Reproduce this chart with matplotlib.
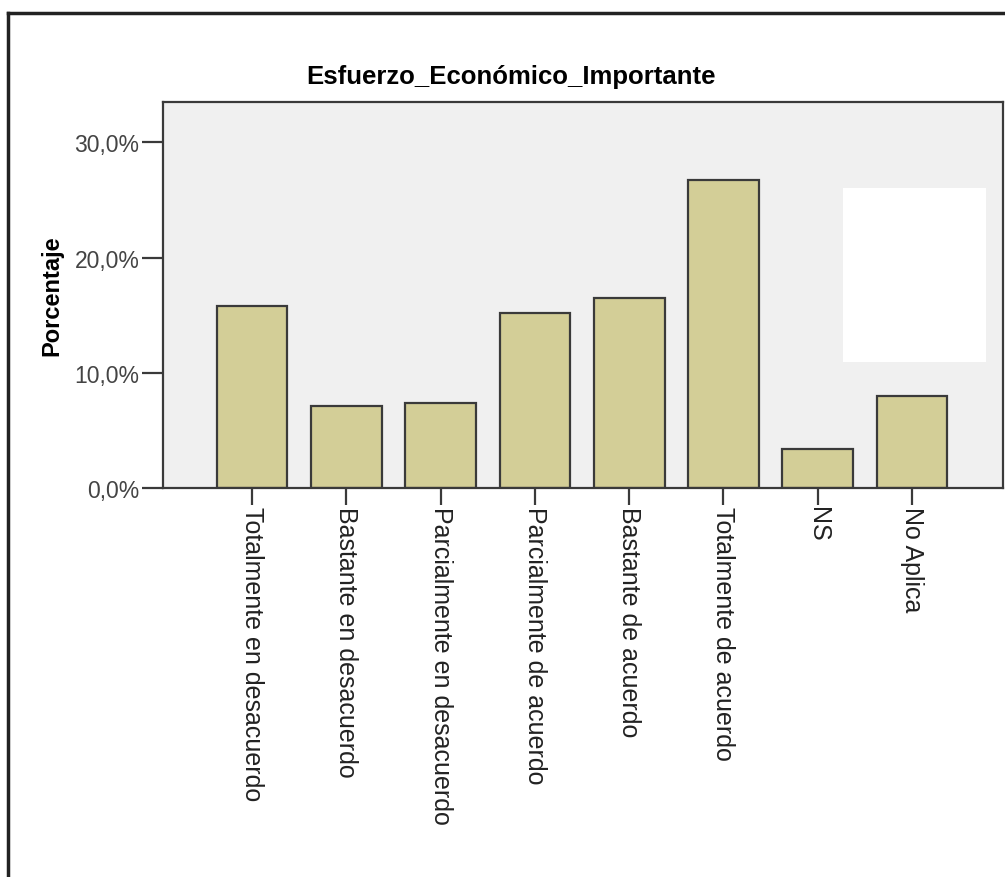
import matplotlib.pyplot as plt
from matplotlib.patches import Rectangle
from matplotlib.lines import Line2D
from matplotlib.ticker import FuncFormatter

plt.rcParams['font.family'] = ['Liberation Sans', 'DejaVu Sans']

# Data
categories = ['Totalmente en desacuerdo', 'Bastante en desacuerdo',
              'Parcialmente en desacuerdo', 'Parcialmente de acuerdo',
              'Bastante de acuerdo', 'Totalmente de acuerdo', 'NS', 'No Aplica']
percentages = [15.8, 7.1, 7.4, 15.2, 16.5, 26.7, 3.4, 8.0]
y_ticks = [0, 10, 20, 30]

fig = plt.figure(figsize=(10.05, 8.78), dpi=100)

# outer frame (left and top edges only are visible)
fig.add_artist(Line2D([8 / 1005, 8 / 1005], [0, 1 - 14 / 878], color='#222222', lw=2.5))
fig.add_artist(Line2D([8 / 1005, 1], [1 - 14 / 878, 1 - 14 / 878], color='#222222', lw=2.5))

ax = fig.add_axes([163 / 1005, 1 - 489 / 878, 840 / 1005, 386 / 878])
ax.set_facecolor('#f0f0f0')

x = range(len(categories))
ax.bar(x, percentages, width=0.75, color='#d3ce97', edgecolor='#3a3a3a', linewidth=1.6, zorder=2)

ax.set_xlim(-0.945, len(categories) - 1 + 0.965)
ax.set_ylim(0, 33.5)
ax.set_yticks(y_ticks)
ax.yaxis.set_major_formatter(FuncFormatter(lambda v, p: f'{v:.1f}%'.replace('.', ',')))
ax.set_xticks(list(x))
ax.set_xticklabels(categories, rotation=-90, ha='center', va='top')

ax.tick_params(axis='y', direction='out', length=15, width=1.6, color='#3a3a3a',
               labelsize=16.5, labelcolor='#444444', pad=2)
ax.tick_params(axis='x', direction='out', length=12, width=1.6, color='#3a3a3a',
               labelsize=18, labelcolor='#222222', pad=1)

for s in ax.spines.values():
    s.set_color('#3a3a3a')
    s.set_linewidth(1.6)

ax.set_ylabel('Porcentaje', fontsize=17, fontweight='bold', labelpad=8)
fig.text(511 / 1005, 1 - 77 / 878, 'Esfuerzo_Económico_Importante', fontsize=18.5,
         fontweight='bold', ha='center', va='center')

# white patch covering part of the plot area (as in the source image)
ax.add_patch(Rectangle((0.81, 0.326), 0.17, 0.451, transform=ax.transAxes,
                       facecolor='white', edgecolor='none', zorder=3))

fig.savefig('out.png', dpi=100)
